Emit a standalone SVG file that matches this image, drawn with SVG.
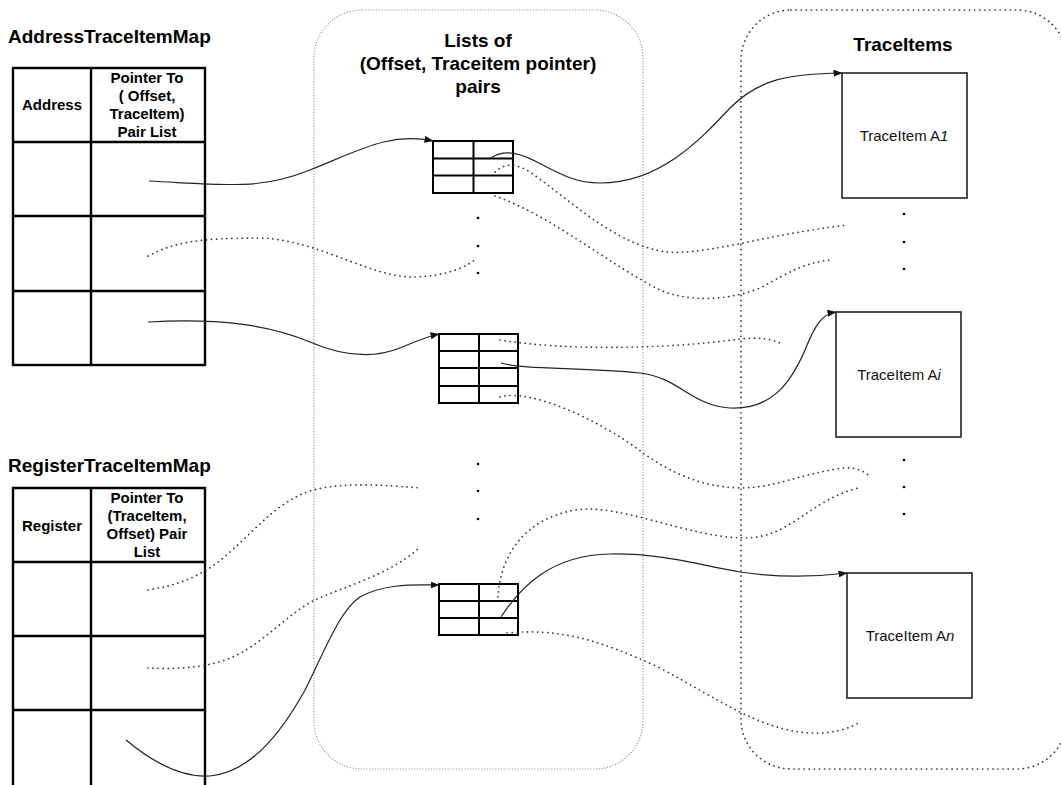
<svg xmlns="http://www.w3.org/2000/svg" width="1061" height="785" viewBox="0 0 1061 785">
  <defs>
    <marker id="arrow" viewBox="0 0 9 7" refX="8.5" refY="3.5" markerWidth="9" markerHeight="7" markerUnits="userSpaceOnUse" orient="auto">
      <path d="M0,0 L9,3.5 L0,7 z" fill="#111"/>
    </marker>
    <style>
      .title { font-family: "Liberation Sans", Arial, sans-serif; font-weight: bold; font-size: 19px; fill: #000; }
      .head { font-family: "Liberation Sans", Arial, sans-serif; font-weight: bold; font-size: 15px; fill: #000; text-anchor: middle; }
      .label { font-family: "Liberation Sans", Arial, sans-serif; font-size: 15px; fill: #111; text-anchor: middle; }
      .table { fill: none; stroke: #000; stroke-width: 2.4; }
      .cell { fill: #fff; stroke: #000; stroke-width: 2; }
      .item { fill: #fff; stroke: #222; stroke-width: 1.6; }
      .link { fill: none; stroke: #222; stroke-width: 1.2; }
      .ref { fill: none; stroke: #333; stroke-width: 1.7; stroke-dasharray: 0.1 5; stroke-linecap: round; }
      .zoneA { fill: none; stroke: #999; stroke-width: 1.2; stroke-dasharray: 1.2 1.6; }
      .zoneB { fill: none; stroke: #333; stroke-width: 1.7; stroke-dasharray: 0.1 5; stroke-linecap: round; }
      .dot { fill: #000; }
    </style>
  </defs>

  <!-- grouping regions -->
  <g id="pair-lists-zone">
    <rect class="zoneA" x="314" y="10" width="329" height="759" rx="48" ry="48"/>
    <text class="title" text-anchor="middle" x="478" y="47">Lists of</text>
    <text class="title" text-anchor="middle" x="478" y="70">(Offset, Traceitem pointer)</text>
    <text class="title" text-anchor="middle" x="478" y="93">pairs</text>
  </g>
  <g id="traceitems-zone">
    <rect class="zoneB" x="741" y="10" width="326" height="759" rx="50" ry="50"/>
    <text class="title" text-anchor="middle" x="903" y="51">TraceItems</text>
  </g>

  <!-- address map table -->
  <g id="address-map">
    <text class="title" x="8" y="43">AddressTraceItemMap</text>
    <rect class="table" x="13" y="68" width="192" height="297"/>
    <line class="table" x1="91" y1="68" x2="91" y2="365"/>
    <line class="table" x1="13" y1="142" x2="205" y2="142"/>
    <line class="table" x1="13" y1="216" x2="205" y2="216"/>
    <line class="table" x1="13" y1="291" x2="205" y2="291"/>
    <text class="head" x="52" y="110">Address</text>
    <text class="head" x="147" y="83">Pointer To</text>
    <text class="head" x="147" y="101">( Offset,</text>
    <text class="head" x="147" y="119">TraceItem)</text>
    <text class="head" x="147" y="137">Pair List</text>
  </g>

  <!-- register map table -->
  <g id="register-map">
    <text class="title" x="8" y="472">RegisterTraceItemMap</text>
    <path class="table" d="M13 790 V488 H205 V790"/>
    <line class="table" x1="91" y1="488" x2="91" y2="790"/>
    <line class="table" x1="13" y1="562" x2="205" y2="562"/>
    <line class="table" x1="13" y1="636" x2="205" y2="636"/>
    <line class="table" x1="13" y1="710" x2="205" y2="710"/>
    <text class="head" x="52" y="531">Register</text>
    <text class="head" x="147" y="503">Pointer To</text>
    <text class="head" x="147" y="521">(TraceItem,</text>
    <text class="head" x="147" y="539">Offset) Pair</text>
    <text class="head" x="147" y="557">List</text>
  </g>

  <!-- pair lists -->
  <g id="pair-list-1">
    <rect class="cell" x="433" y="141" width="80" height="52"/>
    <line class="cell" x1="433" y1="158.5" x2="513" y2="158.5"/>
    <line class="cell" x1="433" y1="175.5" x2="513" y2="175.5"/>
    <line class="cell" x1="473.5" y1="141" x2="473.5" y2="193"/>
  </g>
  <g id="pair-list-i">
    <rect class="cell" x="439" y="334" width="79" height="69"/>
    <line class="cell" x1="439" y1="351" x2="518" y2="351"/>
    <line class="cell" x1="439" y1="368" x2="518" y2="368"/>
    <line class="cell" x1="439" y1="386" x2="518" y2="386"/>
    <line class="cell" x1="479" y1="334" x2="479" y2="403"/>
  </g>
  <g id="pair-list-n">
    <rect class="cell" x="439" y="584" width="79" height="51"/>
    <line class="cell" x1="439" y1="601" x2="518" y2="601"/>
    <line class="cell" x1="439" y1="618" x2="518" y2="618"/>
    <line class="cell" x1="479" y1="584" x2="479" y2="635"/>
  </g>
  <g id="pair-list-ellipsis">
    <circle class="dot" cx="478" cy="218" r="1.3"/>
    <circle class="dot" cx="478" cy="246" r="1.3"/>
    <circle class="dot" cx="478" cy="273" r="1.3"/>
    <circle class="dot" cx="478" cy="464" r="1.3"/>
    <circle class="dot" cx="478" cy="491" r="1.3"/>
    <circle class="dot" cx="478" cy="519" r="1.3"/>
  </g>

  <!-- trace items -->
  <g id="traceitem-a1">
    <rect class="item" x="842" y="73" width="125" height="125"/>
    <text class="label" x="904" y="141">TraceItem A<tspan font-style="italic">1</tspan></text>
  </g>
  <g id="traceitem-ai">
    <rect class="item" x="836" y="312" width="125" height="125"/>
    <text class="label" x="899" y="380">TraceItem A<tspan font-style="italic">i</tspan></text>
  </g>
  <g id="traceitem-an">
    <rect class="item" x="847" y="573" width="125" height="125"/>
    <text class="label" x="910" y="641">TraceItem A<tspan font-style="italic">n</tspan></text>
  </g>
  <g id="traceitem-ellipsis">
    <circle class="dot" cx="904" cy="214" r="1.3"/>
    <circle class="dot" cx="904" cy="242" r="1.3"/>
    <circle class="dot" cx="904" cy="269" r="1.3"/>
    <circle class="dot" cx="904" cy="460" r="1.3"/>
    <circle class="dot" cx="904" cy="487" r="1.3"/>
    <circle class="dot" cx="904" cy="514" r="1.3"/>
  </g>

  <!-- connectors: solid = shown pointer, dotted = further pointers -->
  <g id="connectors">
    <path class="link" marker-end="url(#arrow)" d="M149 181 C 230 185, 260 190, 310 170 S 390 132, 433 141"/>
    <path class="link" marker-end="url(#arrow)" d="M491 158 C 502 150, 516 151, 535 161 C 560 174, 575 183, 600 183 C 660 183, 700 140, 730 108 C 760 78, 790 74, 842 73"/>
    <path class="link" marker-end="url(#arrow)" d="M148 322 C 220 318, 270 325, 310 342 C 340 355, 370 360, 400 348 C 415 342, 425 337, 439 334"/>
    <path class="link" marker-end="url(#arrow)" d="M501 363 C 525 370, 580 367, 640 373 C 680 378, 690 405, 730 408 C 770 410, 790 385, 805 350 C 815 325, 822 314, 836 312"/>
    <path class="link" marker-end="url(#arrow)" d="M126 740 C 150 760, 180 778, 210 776 C 250 772, 280 735, 305 690 C 325 650, 340 610, 360 597 C 385 583, 415 585, 439 585"/>
    <path class="link" marker-end="url(#arrow)" d="M501 617 C 520 588, 550 555, 610 554 C 660 553, 700 565, 740 572 C 780 578, 815 577, 847 573"/>

    <path class="ref" d="M148 256 C 175 242, 200 238, 260 238 C 320 240, 370 278, 415 277 C 445 276, 465 268, 476 259"/>
    <path class="ref" d="M495 172 C 505 163, 515 163, 530 172 C 570 200, 610 240, 660 251 C 700 258, 760 235, 848 225"/>
    <path class="ref" d="M495 196 C 550 215, 610 265, 660 290 C 690 303, 730 300, 760 288 C 790 272, 805 262, 832 260"/>
    <path class="ref" d="M500 340 C 560 350, 660 350, 740 339 C 760 337, 770 339, 780 343"/>
    <path class="ref" d="M500 397 C 530 388, 600 420, 643 453 C 670 472, 700 487, 740 488 C 775 488, 800 474, 843 468 C 855 467, 865 471, 870 477"/>
    <path class="ref" d="M498 597 C 500 560, 520 520, 575 510 C 620 503, 690 538, 745 538 C 790 538, 810 500, 858 488"/>
    <path class="ref" d="M507 633 C 560 628, 600 640, 660 668 C 720 700, 760 730, 810 733 C 835 734, 850 728, 860 722"/>
    <path class="ref" d="M148 590 C 180 585, 205 575, 230 552 C 260 525, 280 500, 313 490 C 345 482, 385 485, 420 488"/>
    <path class="ref" d="M148 668 C 170 669, 200 669, 225 660 C 260 648, 285 615, 315 600 C 345 586, 390 575, 420 547"/>
  </g>
</svg>
